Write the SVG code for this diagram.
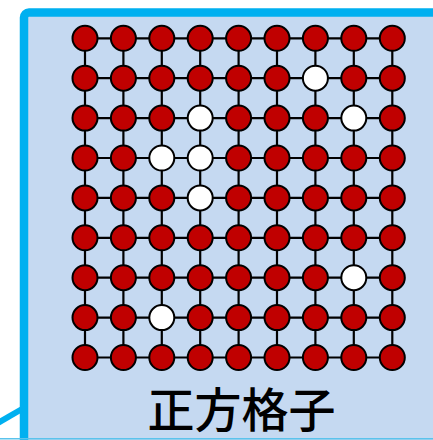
<svg xmlns="http://www.w3.org/2000/svg" width="433" height="440" viewBox="0 0 433 440">
<style>
.pt{stroke:#000;stroke-width:2}
.r{fill:#C00000}
.w{fill:#FFFFFF}
.ln{stroke:#000;stroke-width:2.2}
.lbl{font-family:"Noto Sans CJK JP","Noto Sans CJK SC",sans-serif;font-size:47px;font-weight:500;fill:#000;text-anchor:middle}
</style>
<rect id="panel" x="24" y="12.5" width="430" height="440" rx="5" fill="#C5D9F1" stroke="#00B0F0" stroke-width="8.5"/>
<line x1="0" y1="438.8" x2="433" y2="438.8" stroke="#5BC3EC" stroke-width="1.5"/>
<line x1="-2" y1="423" x2="22" y2="409" stroke="#00B0F0" stroke-width="6"/>
<g id="connectors" class="ln">
<path d="M85 38.3H392.3M85 78.2H392.3M85 118.1H392.3M85 158H392.3M85 197.9H392.3M85 237.8H392.3M85 277.7H392.3M85 317.6H392.3M85 357.5H392.3"/>
<path d="M85 38.3V357.5M123.4 38.3V357.5M161.8 38.3V357.5M200.2 38.3V357.5M238.6 38.3V357.5M277 38.3V357.5M315.4 38.3V357.5M353.8 38.3V357.5M392.3 38.3V357.5"/>
</g>
<g id="nodes" class="pt">
<g id="row0" class="r">
<circle cx="85" cy="38.3" r="12.5"/><circle cx="123.4" cy="38.3" r="12.5"/><circle cx="161.8" cy="38.3" r="12.5"/><circle cx="200.2" cy="38.3" r="12.5"/><circle cx="238.6" cy="38.3" r="12.5"/><circle cx="277" cy="38.3" r="12.5"/><circle cx="315.4" cy="38.3" r="12.5"/><circle cx="353.8" cy="38.3" r="12.5"/><circle cx="392.3" cy="38.3" r="12.5"/>
</g>
<g id="row1" class="r">
<circle cx="85" cy="78.2" r="12.5"/><circle cx="123.4" cy="78.2" r="12.5"/><circle cx="161.8" cy="78.2" r="12.5"/><circle cx="200.2" cy="78.2" r="12.5"/><circle cx="238.6" cy="78.2" r="12.5"/><circle cx="277" cy="78.2" r="12.5"/><circle class="w" cx="315.4" cy="78.2" r="12.5"/><circle cx="353.8" cy="78.2" r="12.5"/><circle cx="392.3" cy="78.2" r="12.5"/>
</g>
<g id="row2" class="r">
<circle cx="85" cy="118.1" r="12.5"/><circle cx="123.4" cy="118.1" r="12.5"/><circle cx="161.8" cy="118.1" r="12.5"/><circle class="w" cx="200.2" cy="118.1" r="12.5"/><circle cx="238.6" cy="118.1" r="12.5"/><circle cx="277" cy="118.1" r="12.5"/><circle cx="315.4" cy="118.1" r="12.5"/><circle class="w" cx="353.8" cy="118.1" r="12.5"/><circle cx="392.3" cy="118.1" r="12.5"/>
</g>
<g id="row3" class="r">
<circle cx="85" cy="158" r="12.5"/><circle cx="123.4" cy="158" r="12.5"/><circle class="w" cx="161.8" cy="158" r="12.5"/><circle class="w" cx="200.2" cy="158" r="12.5"/><circle cx="238.6" cy="158" r="12.5"/><circle cx="277" cy="158" r="12.5"/><circle cx="315.4" cy="158" r="12.5"/><circle cx="353.8" cy="158" r="12.5"/><circle cx="392.3" cy="158" r="12.5"/>
</g>
<g id="row4" class="r">
<circle cx="85" cy="197.9" r="12.5"/><circle cx="123.4" cy="197.9" r="12.5"/><circle cx="161.8" cy="197.9" r="12.5"/><circle class="w" cx="200.2" cy="197.9" r="12.5"/><circle cx="238.6" cy="197.9" r="12.5"/><circle cx="277" cy="197.9" r="12.5"/><circle cx="315.4" cy="197.9" r="12.5"/><circle cx="353.8" cy="197.9" r="12.5"/><circle cx="392.3" cy="197.9" r="12.5"/>
</g>
<g id="row5" class="r">
<circle cx="85" cy="237.8" r="12.5"/><circle cx="123.4" cy="237.8" r="12.5"/><circle cx="161.8" cy="237.8" r="12.5"/><circle cx="200.2" cy="237.8" r="12.5"/><circle cx="238.6" cy="237.8" r="12.5"/><circle cx="277" cy="237.8" r="12.5"/><circle cx="315.4" cy="237.8" r="12.5"/><circle cx="353.8" cy="237.8" r="12.5"/><circle cx="392.3" cy="237.8" r="12.5"/>
</g>
<g id="row6" class="r">
<circle cx="85" cy="277.7" r="12.5"/><circle cx="123.4" cy="277.7" r="12.5"/><circle cx="161.8" cy="277.7" r="12.5"/><circle cx="200.2" cy="277.7" r="12.5"/><circle cx="238.6" cy="277.7" r="12.5"/><circle cx="277" cy="277.7" r="12.5"/><circle cx="315.4" cy="277.7" r="12.5"/><circle class="w" cx="353.8" cy="277.7" r="12.5"/><circle cx="392.3" cy="277.7" r="12.5"/>
</g>
<g id="row7" class="r">
<circle cx="85" cy="317.6" r="12.5"/><circle cx="123.4" cy="317.6" r="12.5"/><circle class="w" cx="161.8" cy="317.6" r="12.5"/><circle cx="200.2" cy="317.6" r="12.5"/><circle cx="238.6" cy="317.6" r="12.5"/><circle cx="277" cy="317.6" r="12.5"/><circle cx="315.4" cy="317.6" r="12.5"/><circle cx="353.8" cy="317.6" r="12.5"/><circle cx="392.3" cy="317.6" r="12.5"/>
</g>
<g id="row8" class="r">
<circle cx="85" cy="357.5" r="12.5"/><circle cx="123.4" cy="357.5" r="12.5"/><circle cx="161.8" cy="357.5" r="12.5"/><circle cx="200.2" cy="357.5" r="12.5"/><circle cx="238.6" cy="357.5" r="12.5"/><circle cx="277" cy="357.5" r="12.5"/><circle cx="315.4" cy="357.5" r="12.5"/><circle cx="353.8" cy="357.5" r="12.5"/><circle cx="392.3" cy="357.5" r="12.5"/>
</g>
</g>
<text id="label" class="lbl" x="241.5" y="427">正方格子</text>
</svg>
